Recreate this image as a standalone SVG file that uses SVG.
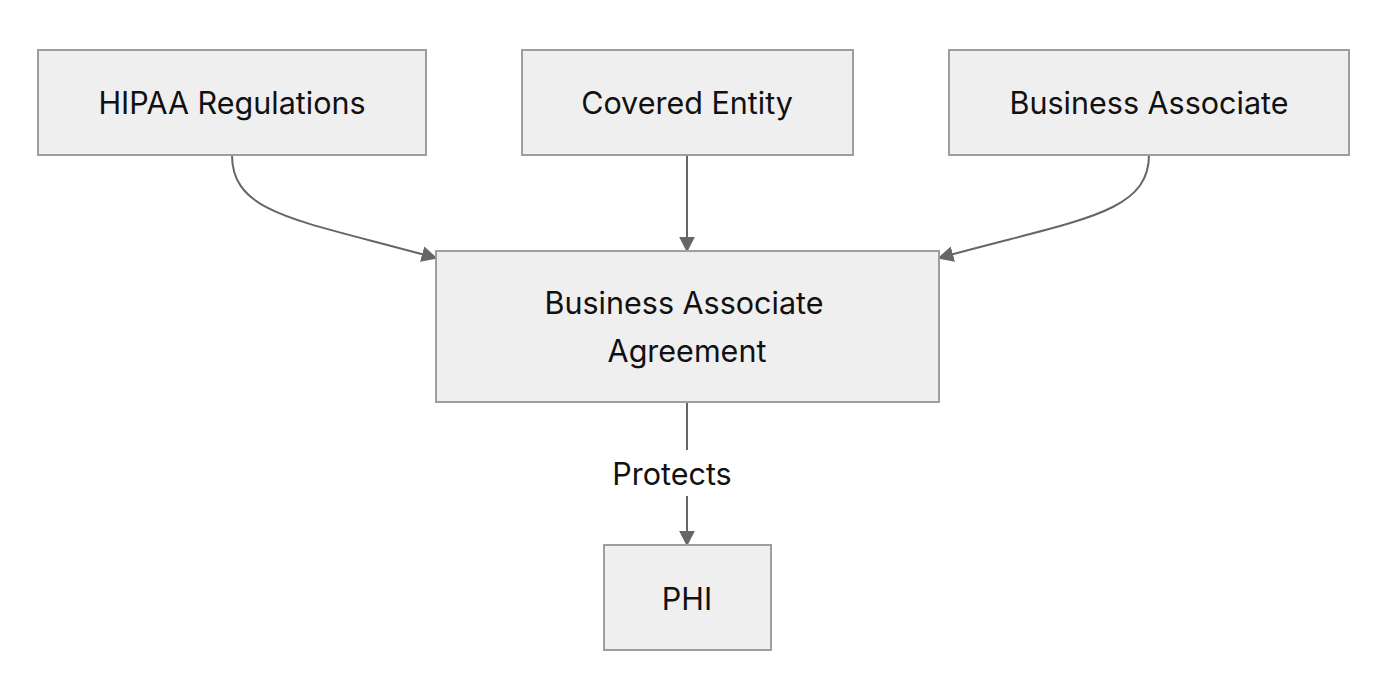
<svg xmlns="http://www.w3.org/2000/svg" width="1388" height="700" viewBox="0 0 1388 700">
<style>
.n rect{fill:#efefef;stroke:#9e9e9e;stroke-width:2}
text{font-family:Inter,"Noto Sans","Liberation Sans",sans-serif;font-size:30.5px;fill:#111;text-anchor:middle;dominant-baseline:central}
.e path{fill:none;stroke:#666;stroke-width:2}
</style>
<defs>
<marker id="b" viewBox="0 0 10 10" refX="9" refY="5" markerWidth="16" markerHeight="16" markerUnits="userSpaceOnUse" orient="auto"><path d="M0,0L10,5L0,10z" fill="#666"/></marker></defs>
<g class="e">
<path d="M232,155 C232,215 300,220 436,258" marker-end="url(#b)"/>
<path d="M687,155 L687,251" marker-end="url(#b)"/>
<path d="M1149,155 C1149,215 1075,220 939,258" marker-end="url(#b)"/>
<path d="M687,402 L687,545" marker-end="url(#b)"/>
<rect x="603" y="450" width="138" height="46" fill="#fff"/>
<text x="672" y="473">Protects</text>
</g>
<g id="hipaa" class="n"><rect x="38" y="50" width="388" height="105"/><text x="232" y="102">HIPAA Regulations</text></g>
<g id="ce" class="n"><rect x="522" y="50" width="331" height="105"/><text x="687" y="102">Covered Entity</text></g>
<g id="ba" class="n"><rect x="949" y="50" width="400" height="105"/><text x="1149" y="102">Business Associate</text></g>
<g id="baa" class="n"><rect x="436" y="251" width="503" height="151"/><text x="684" y="302">Business Associate</text><text x="687" y="350">Agreement</text></g>
<g id="phi" class="n"><rect x="604" y="545" width="167" height="105"/><text x="687" y="598">PHI</text></g>
</svg>
